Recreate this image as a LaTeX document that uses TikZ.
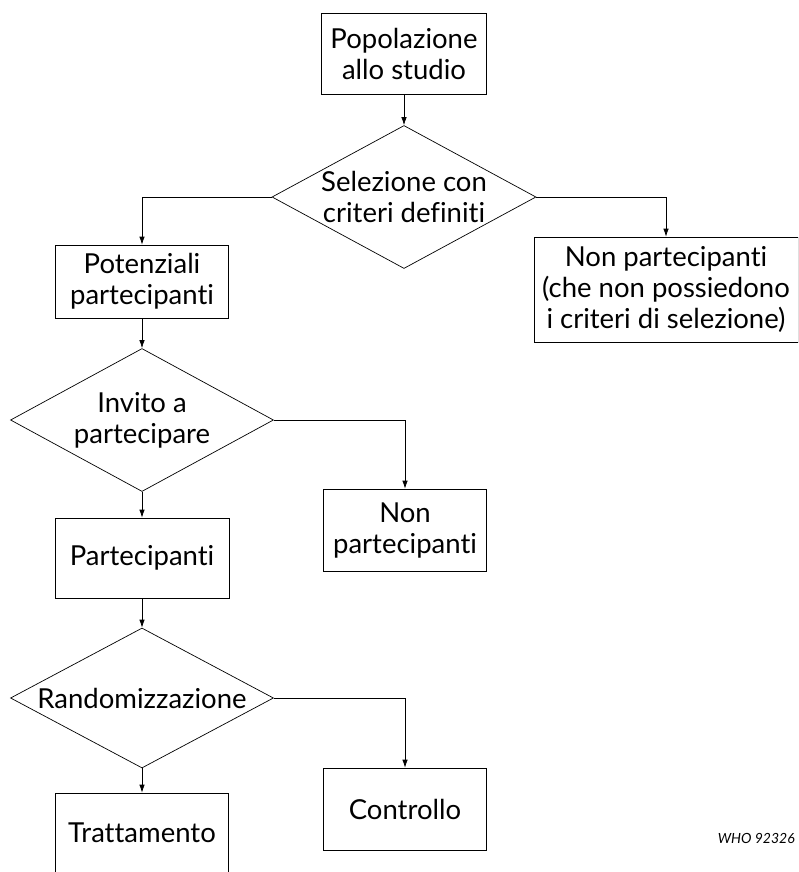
\documentclass[tikz,border=0pt]{standalone}
\usepackage{fontspec}
\setmainfont{Lato}[Ligatures=NoCommon]
\usetikzlibrary{shapes.geometric,arrows.meta}
\begin{document}
\begin{tikzpicture}[x=1pt,y=-1pt,
  box/.style={draw, line width=0.7pt, inner sep=0pt, align=center,
    font=\fontsize{27.5}{31}\selectfont},
  dia/.style={draw, line width=0.7pt, shape=diamond, inner sep=0pt},
  lbl/.style={inner sep=0pt, align=center, font=\fontsize{27.5}{31}\selectfont},
  arr/.style={line width=0.7pt, -{Latex[length=8pt,width=5.5pt]}}]
\useasboundingbox (0,0) rectangle (798,872);
\clip (0,0) rectangle (798,872);

% boxes
\node[box, minimum width=165, minimum height=81] (pop) at (404,53.5)
  {Popolazione\\allo studio};
\node[box, minimum width=173, minimum height=73] (pot) at (142,281.5)
  {Potenziali\\partecipanti};
\node[box, minimum width=264, minimum height=105] (np1) at (666,289.5)
  {Non partecipanti\\(che non possiedono\\i criteri di selezione)};
\node[box, minimum width=174, minimum height=80] (part) at (142,558)
  {Partecipanti};
\node[box, minimum width=163, minimum height=82] (np2) at (405,530)
  {Non\\partecipanti};
\node[box, minimum width=173, minimum height=80] (tratt) at (142,833)
  {Trattamento};
\node[box, minimum width=163, minimum height=82] (ctrl) at (405,809)
  {Controllo};

% decision diamonds
\node[dia, minimum width=264, minimum height=143] (d1) at (404,197) {};
\node[lbl] (d1t) at (404,197) {Selezione con\\criteri definiti};
\node[dia, minimum width=263, minimum height=143] (d2) at (142,420) {};
\node[lbl] (d2t) at (142,420) {Invito a\\partecipare};
\node[dia, minimum width=263, minimum height=140] (d3) at (142,698) {};
\node[lbl] (d3t) at (142,698) {Randomizzazione};

% connectors
\draw[arr] (pop.south) -- (d1.north);
\draw[arr] (d1.west) -| (pot.north);
\draw[arr] (d1.east) -| (np1.north);
\draw[arr] (pot.south) -- (d2.north);
\draw[arr] (d2.south) -- (part.north);
\draw[arr] (d2.east) -| (np2.north);
\draw[arr] (part.south) -- (d3.north);
\draw[arr] (d3.south) -- (tratt.north);
\draw[arr] (d3.east) -| (ctrl.north);

% figure code
\node[anchor=base east, inner sep=0pt, font=\fontsize{14}{16}\selectfont\itshape]
  (code) at (795,843) {WHO 92326};
\end{tikzpicture}
\end{document}
